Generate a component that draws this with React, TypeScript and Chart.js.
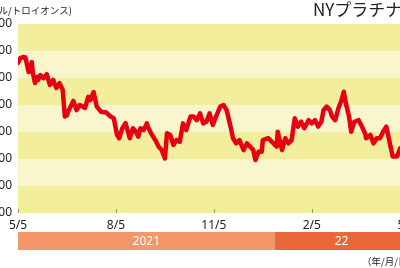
import React, { useEffect, useRef } from "react";
import { Chart, registerables } from "chart.js";

Chart.register(...registerables);

// days since 2021-05-05
const days = [0,2,5,7,10,13,14,16,18,19,21,24,27,30,33,36,39,42,44,46,47,52,55,58,63,66,68,71,74,78,83,87,90,93,95,98,101,105,108,110,113,115,118,121,122,125,129,132,135,138,140,143,146,149,152,155,158,162,165,168,171,174,177,180,183,186,190,193,196,199,202,205,208,212,215,218,221,223,226,229,230,235,240,243,244,248,251,254,257,260,263,266,269,273,276,279,282,285,287,290,293,295,298,301,304,306,308,311,313,316,320,323,326,327,331,334,337,340,343,346,349,352,356,359,362];
const prices = [1256,1273,1278,1276,1222,1259,1217,1181,1204,1193,1211,1199,1214,1174,1193,1163,1181,1156,1057,1062,1075,1115,1081,1100,1089,1130,1118,1148,1094,1075,1072,1057,1051,990,977,1014,1033,977,1014,1005,983,1014,1007,1032,1020,995,970,946,933,902,995,989,952,970,964,1032,1007,1057,1057,1044,1069,1032,1038,1069,1026,1057,1094,1100,1081,1032,977,958,970,933,958,946,933,896,927,927,970,977,958,946,1001,933,977,958,970,1051,1020,1038,1014,1044,1032,1044,1020,1038,1081,1094,1081,1057,1044,1088,1119,1149,1106,1057,1001,1038,1044,1020,995,977,989,958,977,977,1001,1020,964,909,909,940,945];

const tickDays = [0, 92, 184, 276, 365];
const tickLabels = ["5/5", "8/5", "11/5", "2/5", "5/5"];
const yTicks = [700, 800, 900, 1000, 1100, 1200, 1300, 1400];

const yearLabels = ["2021", "22"];
const yearStarts = [0, 241];
const yearEnds = [241, 367];
const yearColors = ["#f3976b", "#e96739"];

const OFFSET = 40;

export default function App() {
  const ref = useRef<HTMLCanvasElement>(null);
  useEffect(() => {
    const canvas = ref.current!;
    const decor = {
      id: "decor",
      beforeDatasetsDraw(chart: any) {
        const { ctx, chartArea, scales } = chart;
        const y = scales.y;
        const x = scales.x;
        ctx.save();
        for (let i = 0; i < yTicks.length - 1; i++) {
          const top = y.getPixelForValue(yTicks[i + 1]);
          const bot = y.getPixelForValue(yTicks[i]);
          ctx.fillStyle = i % 2 === 0 ? "#f3ee9c" : "#f9f6cd";
          ctx.fillRect(chartArea.left, top, chart.width - chartArea.left, bot - top);
        }
        ctx.strokeStyle = "#9a9a80";
        ctx.lineWidth = 1;
        for (const d of tickDays) {
          const px = Math.round(x.getPixelForValue(d)) + 0.5;
          ctx.beginPath();
          ctx.moveTo(px, chartArea.bottom - 4);
          ctx.lineTo(px, chartArea.bottom);
          ctx.stroke();
        }
        ctx.restore();
      },
      afterDraw(chart: any) {
        const { ctx, scales } = chart;
        const x = scales.x;
        ctx.save();
        for (let i = 0; i < yearLabels.length; i++) {
          const x0 = x.getPixelForValue(yearStarts[i]);
          const x1 = x.getPixelForValue(yearEnds[i]);
          ctx.fillStyle = yearColors[i];
          ctx.fillRect(x0, 232, x1 - x0, 18);
          ctx.fillStyle = "#ffffff";
          ctx.font = "12px 'Noto Sans', sans-serif";
          ctx.textAlign = "center";
          ctx.textBaseline = "middle";
          ctx.fillText(yearLabels[i], (x0 + x1) / 2, 241.5);
        }
        // unit label
        ctx.fillStyle = "#222";
        ctx.font = "9.5px 'Noto Sans CJK JP', sans-serif";
        ctx.textAlign = "right";
        ctx.textBaseline = "alphabetic";
        ctx.fillText("(ドル/トロイオンス)", OFFSET + 72, 14);
        ctx.textAlign = "left";
        ctx.fillText("（年/月/日）", OFFSET + 362, 265);
        // title
        ctx.font = "17px 'Noto Sans CJK JP', sans-serif";
        ctx.fillText("NYプラチナ", OFFSET + 313, 16);
        ctx.restore();
      },
    };
    const chart = new Chart(canvas, {
      type: "line",
      data: {
        datasets: [
          {
            data: days.map((d, i) => ({ x: d, y: prices[i] })),
            borderColor: "#e60012",
            borderWidth: 4.5,
            pointRadius: 0,
            tension: 0,
            borderJoinStyle: "round",
            borderCapStyle: "round",
          },
        ],
      },
      options: {
        animation: false,
        responsive: false,
        layout: { padding: { left: 0, right: 16, top: 24, bottom: 0 } },
        plugins: { legend: { display: false }, tooltip: { enabled: false } },
        scales: {
          x: {
            type: "linear",
            min: 0,
            max: 372,
            afterBuildTicks(scale: any) {
              scale.ticks = tickDays.map((v) => ({ value: v }));
            },
            afterFit(scale: any) {
              scale.height = 55;
            },
            grid: { display: false, drawTicks: false },
            border: { display: false },
            ticks: {
              padding: 5,
              color: "#222",
              font: { size: 12, family: "'Noto Sans', sans-serif" },
              maxRotation: 0,
              autoSkip: false,
              callback: (v: any) => {
                const i = tickDays.indexOf(Number(v));
                return i >= 0 ? tickLabels[i] : "";
              },
            },
          },
          y: {
            min: 700,
            max: 1400,
            afterBuildTicks(scale: any) {
              scale.ticks = yTicks.map((v) => ({ value: v }));
            },
            afterFit(scale: any) {
              scale.width = 58;
            },
            grid: { display: false, drawTicks: false },
            border: { display: false },
            ticks: {
              padding: 6,
              color: "#222",
              font: { size: 12, family: "'Noto Sans', sans-serif" },
              callback: (v: any) => Number(v).toLocaleString("en-US"),
            },
          },
        },
      },
      plugins: [decor],
    } as any);
    return () => chart.destroy();
  }, []);
  return (
    <div style={{ position: "fixed", left: -OFFSET, top: 0, width: 470, height: 268, background: "#fff" }}>
      <canvas ref={ref} width={470} height={268} />
    </div>
  );
}
